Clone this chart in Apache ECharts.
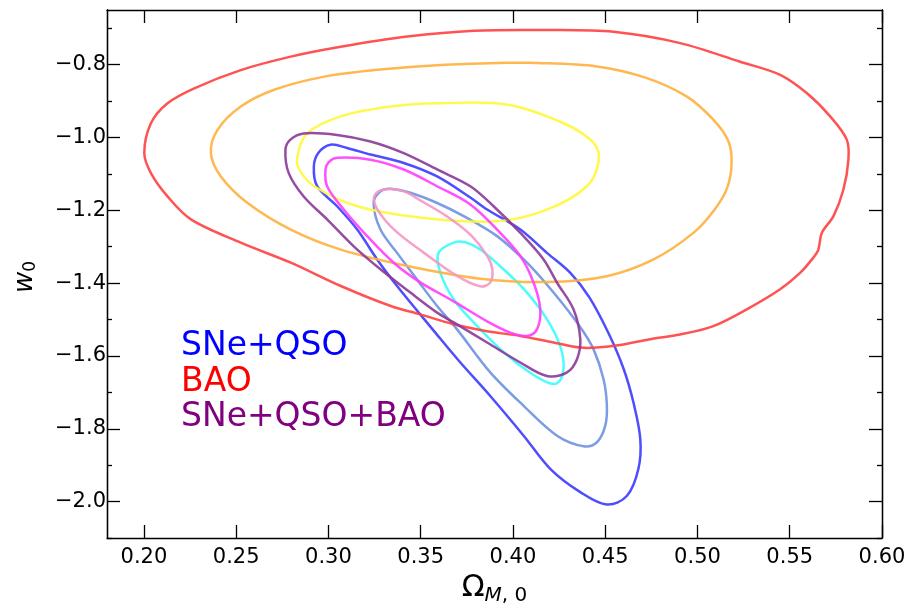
<!DOCTYPE html>
<html>
<head>
<meta charset="utf-8">
<script src="https://cdn.jsdelivr.net/npm/echarts@6/dist/echarts.min.js"></script>
<style>
  html, body { margin: 0; padding: 0; background: #fff; }
  #chart { width: 917px; height: 614px; }
</style>
</head>
<body>
<div id="chart"></div>
<script>
// tick labels
var xTicks = [0.20, 0.25, 0.30, 0.35, 0.40, 0.45, 0.50, 0.55, 0.60];
var yTicks = [-2.0, -1.8, -1.6, -1.4, -1.2, -1.0, -0.8];
var yMinorTicks = [-2.1, -1.9, -1.7, -1.5, -1.3, -1.1, -0.9, -0.7];

// contours, [Omega_M0, w0]
// BAO
var bao2 = [[0.2002,-1.043],[0.2038,-0.961],[0.2128,-0.906],[0.2273,-0.865],[0.2525,-0.815],[0.2796,-0.778],[0.3067,-0.751],[0.3428,-0.723],[0.3789,-0.707],[0.4185,-0.705],[0.4545,-0.710],[0.4906,-0.741],[0.5231,-0.792],[0.5448,-0.828],[0.5592,-0.878],[0.5719,-0.942],[0.5809,-1.006],[0.5818,-1.061],[0.5791,-1.143],[0.5737,-1.216],[0.5674,-1.262],[0.5655,-1.308],[0.5628,-1.330],[0.5556,-1.372],[0.5448,-1.417],[0.5267,-1.472],[0.5086,-1.518],[0.4906,-1.541],[0.4744,-1.554],[0.4581,-1.570],[0.4455,-1.577],[0.4365,-1.577],[0.4220,-1.563],[0.4040,-1.545],[0.3860,-1.532],[0.3679,-1.513],[0.3498,-1.486],[0.3338,-1.463],[0.3067,-1.408],[0.2796,-1.344],[0.2525,-1.289],[0.2255,-1.225],[0.2128,-1.162],[0.2038,-1.098]];
var bao1 = [[0.2363,-1.043],[0.2399,-0.979],[0.2525,-0.915],[0.2706,-0.869],[0.2977,-0.833],[0.3248,-0.815],[0.3608,-0.801],[0.3970,-0.795],[0.4094,-0.795],[0.4455,-0.805],[0.4726,-0.837],[0.4943,-0.888],[0.5087,-0.952],[0.5167,-1.010],[0.5185,-1.070],[0.5160,-1.140],[0.5090,-1.200],[0.4978,-1.262],[0.4762,-1.335],[0.4509,-1.381],[0.4185,-1.397],[0.3823,-1.388],[0.3428,-1.353],[0.3067,-1.308],[0.2796,-1.253],[0.2562,-1.180],[0.2417,-1.107]];
var bao0 = [[0.2832,-1.052],[0.2886,-0.988],[0.3067,-0.942],[0.3338,-0.915],[0.3608,-0.906],[0.3970,-0.910],[0.4275,-0.961],[0.4437,-1.015],[0.4464,-1.066],[0.4401,-1.134],[0.4185,-1.198],[0.3914,-1.230],[0.3518,-1.221],[0.3157,-1.189],[0.2923,-1.134],[0.2842,-1.088]];
// SNe+QSO
var snq2 = [[0.3011,-1.020],[0.2946,-1.042],[0.2921,-1.079],[0.2939,-1.134],[0.3047,-1.189],[0.3156,-1.253],[0.3264,-1.335],[0.3372,-1.408],[0.3488,-1.480],[0.3607,-1.553],[0.3715,-1.618],[0.3877,-1.710],[0.4058,-1.819],[0.4202,-1.910],[0.4365,-1.974],[0.4509,-2.008],[0.4618,-1.984],[0.4680,-1.910],[0.4690,-1.828],[0.4653,-1.728],[0.4600,-1.636],[0.4520,-1.540],[0.4415,-1.440],[0.4311,-1.372],[0.4184,-1.317],[0.4040,-1.253],[0.3860,-1.198],[0.3769,-1.165],[0.3589,-1.107],[0.3408,-1.070],[0.3228,-1.047],[0.3101,-1.029]];
var snq1 = [[0.3282,-1.148],[0.3245,-1.180],[0.3282,-1.253],[0.3372,-1.317],[0.3480,-1.390],[0.3589,-1.463],[0.3697,-1.527],[0.3877,-1.645],[0.4058,-1.737],[0.4239,-1.819],[0.4383,-1.848],[0.4455,-1.837],[0.4500,-1.792],[0.4509,-1.737],[0.4491,-1.664],[0.4437,-1.582],[0.4365,-1.521],[0.4220,-1.426],[0.4076,-1.344],[0.3914,-1.271],[0.3733,-1.216],[0.3589,-1.180],[0.3444,-1.152],[0.3336,-1.141]];
var snq0 = [[0.3679,-1.289],[0.3597,-1.317],[0.3607,-1.372],[0.3679,-1.445],[0.3787,-1.508],[0.3914,-1.573],[0.4040,-1.627],[0.4166,-1.668],[0.4239,-1.675],[0.4274,-1.636],[0.4256,-1.573],[0.4184,-1.499],[0.4076,-1.426],[0.3949,-1.362],[0.3823,-1.308],[0.3742,-1.288]];
// SNe+QSO+BAO
var all2 = [[0.2866,-0.989],[0.2794,-1.006],[0.2767,-1.034],[0.2785,-1.098],[0.2866,-1.162],[0.2993,-1.225],[0.3137,-1.299],[0.3282,-1.362],[0.3444,-1.426],[0.3589,-1.481],[0.3679,-1.508],[0.3860,-1.563],[0.4040,-1.618],[0.4184,-1.655],[0.4293,-1.645],[0.4347,-1.609],[0.4365,-1.554],[0.4328,-1.472],[0.4239,-1.399],[0.4166,-1.335],[0.4040,-1.262],[0.3895,-1.189],[0.3769,-1.134],[0.3589,-1.088],[0.3408,-1.043],[0.3228,-1.011],[0.3047,-0.993]];
var all1 = [[0.3047,-1.056],[0.3002,-1.068],[0.2984,-1.088],[0.2993,-1.134],[0.3083,-1.198],[0.3210,-1.271],[0.3354,-1.344],[0.3498,-1.398],[0.3679,-1.450],[0.3860,-1.505],[0.3986,-1.536],[0.4076,-1.545],[0.4130,-1.527],[0.4148,-1.472],[0.4112,-1.399],[0.4040,-1.326],[0.3914,-1.253],[0.3769,-1.184],[0.3589,-1.134],[0.3408,-1.088],[0.3228,-1.061]];
var all0 = [[0.3302,-1.143],[0.3248,-1.162],[0.3266,-1.198],[0.3356,-1.253],[0.3518,-1.317],[0.3699,-1.381],[0.3823,-1.409],[0.3877,-1.398],[0.3888,-1.362],[0.3861,-1.326],[0.3769,-1.267],[0.3643,-1.217],[0.3498,-1.173],[0.3408,-1.148]];

var legendNames = ['SNe+QSO', 'BAO', 'SNe+QSO+BAO'];
var legendColors = ['#0000ff', '#ff0000', '#800080'];

(function() {
    var myChart = echarts.init(document.getElementById('chart'));
    var font = 'DejaVu Sans';

    // closed curve through the points (pixel coords), cubic pieces
    function loopPath(p) {
        var n = p.length;
        var d = 'M' + p[0][0] + ' ' + p[0][1];
        function unit(a, b) {
            var dx = b[0] - a[0], dy = b[1] - a[1];
            var l = Math.sqrt(dx * dx + dy * dy) || 1;
            return [dx / l, dy / l];
        }
        for (var i = 0; i < n; i++) {
            var p0 = p[(i - 1 + n) % n], p1 = p[i], p2 = p[(i + 1) % n], p3 = p[(i + 2) % n];
            var seg = Math.sqrt(Math.pow(p2[0] - p1[0], 2) + Math.pow(p2[1] - p1[1], 2)) / 3;
            var t1 = unit(p0, p2), t2 = unit(p1, p3);
            d += ' C' + (p1[0] + t1[0] * seg) + ' ' + (p1[1] + t1[1] * seg) + ' ' +
                (p2[0] - t2[0] * seg) + ' ' + (p2[1] - t2[1] * seg) + ' ' + p2[0] + ' ' + p2[1];
        }
        return d + ' Z';
    }

    function contour(name, pts, color) {
        return {
            name: name,
            type: 'custom',
            coordinateSystem: 'cartesian2d',
            data: [pts[0]],
            silent: true,
            clip: true,
            renderItem: function(params, api) {
                var px = pts.map(function(q) { return api.coord(q); });
                return {
                    type: 'path',
                    shape: { pathData: loopPath(px) },
                    style: { fill: 'none', stroke: color, lineWidth: 2.5, opacity: 0.9 }
                };
            }
        };
    }

    function minus(v, d) {
        var s = Math.abs(v).toFixed(d);
        return v < 0 ? '\u2212' + s : s;
    }

    var frame = { show: true, lineStyle: { color: '#000', width: 1.3 } };

    function xAx(pos, labels) {
        return {
            type: 'value', position: pos, min: 0.18, max: 0.60,
            axisLine: frame,
            splitLine: { show: false },
            axisTick: { show: true, inside: true, length: 13, customValues: xTicks, lineStyle: { color: '#000', width: 1.3 } },
            axisLabel: { show: labels, customValues: xTicks, color: '#000', fontSize: 21, fontFamily: font, margin: 9,
                formatter: function(v) { return minus(v, 2); } }
        };
    }

    function yAx(pos, ticks, len, labels) {
        return {
            type: 'value', position: pos, min: -2.1, max: -0.65,
            axisLine: frame,
            splitLine: { show: false },
            axisTick: { show: true, inside: true, length: len, customValues: ticks, lineStyle: { color: '#000', width: 1.3 } },
            axisLabel: { show: labels, customValues: ticks, color: '#000', fontSize: 21, fontFamily: font, margin: 1,
                formatter: function(v) { return minus(v, 1); } }
        };
    }

    var xBottom = xAx('bottom', true);
    xBottom.name = '{a|\u03A9}{b|M}{c|, 0}';
    xBottom.nameLocation = 'middle';
    xBottom.nameGap = 30;
    xBottom.nameTextStyle = {
        rich: {
            a: { fontSize: 30, fontFamily: font, color: '#000' },
            b: { fontSize: 20, fontFamily: font, fontStyle: 'italic', color: '#000', padding: [16, 0, 0, 0] },
            c: { fontSize: 20, fontFamily: font, color: '#000', padding: [16, 0, 0, 0] }
        }
    };

    var yLeft = yAx('left', yTicks, 13, true);
    yLeft.name = '{a|w}{b|0}';
    yLeft.nameLocation = 'middle';
    yLeft.nameRotate = 90;
    yLeft.nameGap = 68;
    yLeft.nameTextStyle = {
        padding: [0, 6, 0, 0],
        rich: {
            a: { fontSize: 26, fontFamily: font, fontStyle: 'italic', color: '#000' },
            b: { fontSize: 17, fontFamily: font, color: '#000', padding: [10, 0, 0, 0] }
        }
    };

    var option = {
        animation: false,
        backgroundColor: '#fff',
        grid: { left: 107, right: 35, top: 10, bottom: 76 },
        xAxis: [xBottom, xAx('top', false)],
        yAxis: [yLeft, yAx('left', yMinorTicks, 5, false), yAx('right', yTicks, 13, false), yAx('right', yMinorTicks, 5, false)],
        graphic: legendNames.map(function(t, i) {
            return {
                type: 'text', left: 181, top: 330 + i * 35.5,
                style: { text: t, fill: legendColors[i], font: '33px "DejaVu Sans"' }
            };
        }),
        series: [
            contour('SNe+QSO 2', snq2, '#3b3bff'),
            contour('SNe+QSO 1', snq1, '#6e91e0'),
            contour('SNe+QSO 0', snq0, '#3cfcfc'),
            contour('BAO 2', bao2, '#ff4040'),
            contour('BAO 1', bao1, '#ffb03c'),
            contour('BAO 0', bao0, '#fff83a'),
            contour('SNe+QSO+BAO 2', all2, '#8a3898'),
            contour('SNe+QSO+BAO 1', all1, '#ff3cff'),
            contour('SNe+QSO+BAO 0', all0, '#f596c4')
        ]
    };
    myChart.setOption(option);
    window.addEventListener("resize", function() {
        myChart.resize();
    });
})();
</script>
</body>
</html>
